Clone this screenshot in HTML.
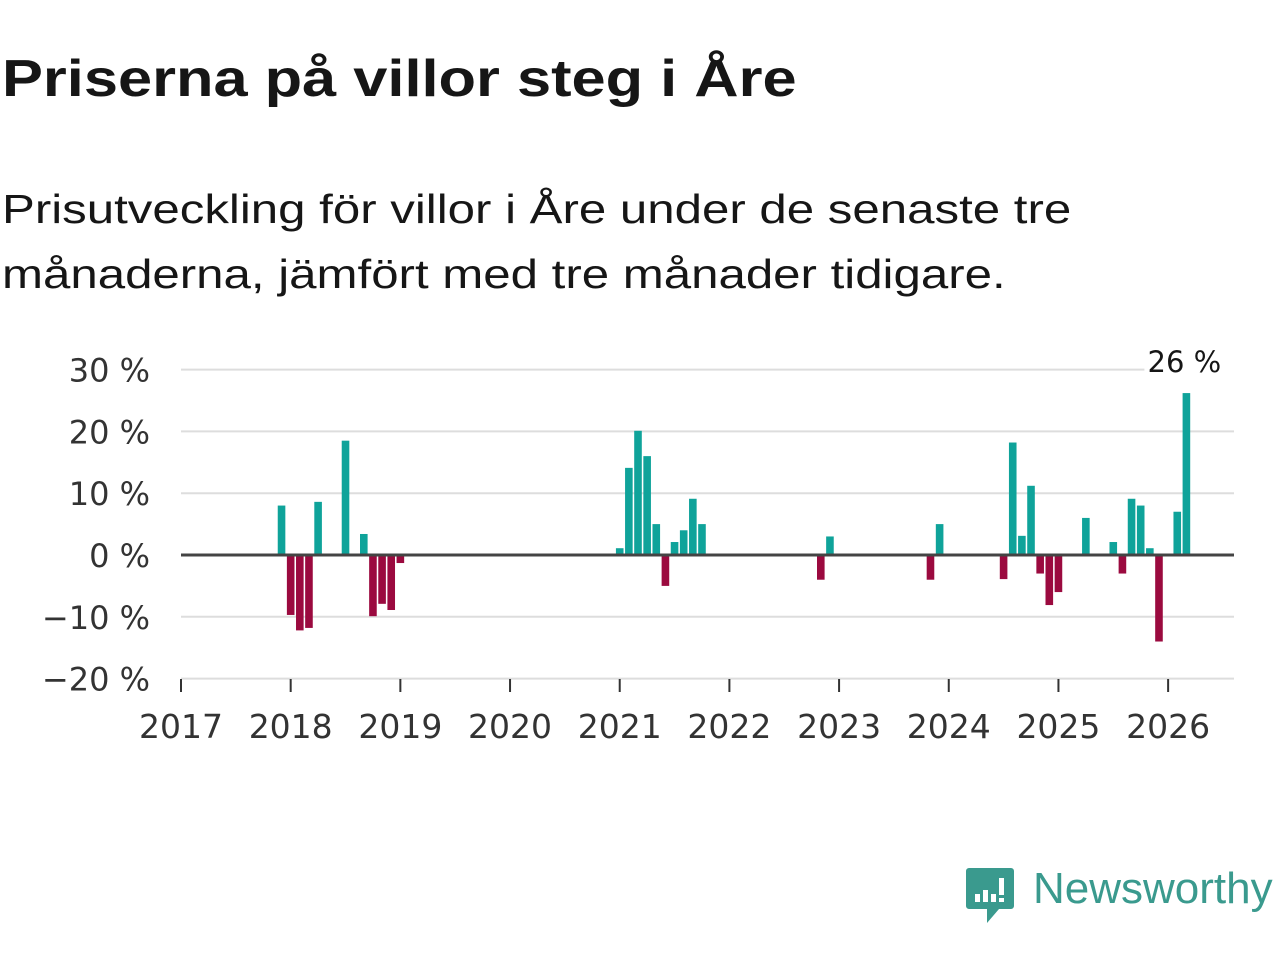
<!DOCTYPE html>
<html><head><meta charset="utf-8"><style>
body{margin:0;width:1280px;height:960px;background:#fff;font-family:"Liberation Sans","DejaVu Sans",sans-serif;overflow:hidden;position:relative}
h1{position:absolute;left:2px;top:49px;margin:0;font-size:52px;font-weight:bold;color:#161616;transform:scaleX(1.18);transform-origin:0 0;white-space:nowrap}
.sub{position:absolute;left:2px;top:177px;margin:0;font-size:41px;line-height:65px;color:#161616;width:1200px;transform:scaleX(1.2);transform-origin:0 0;white-space:nowrap}
</style></head><body>
<h1>Priserna på villor steg i Åre</h1>
<p class="sub">Prisutveckling för villor i Åre under de senaste tre<br>månaderna, jämfört med tre månader tidigare.</p>
<svg id="chart" width="1280" height="800" style="position:absolute;left:0;top:0" font-family="DejaVu Sans, Liberation Sans, sans-serif"></svg>
<div style="position:absolute;left:965px;top:866px;width:315px;height:60px">
<svg width="50" height="60"><path d="M4 2h42a3 3 0 0 1 3 3v35a3 3 0 0 1-3 3H34l-12 14v-14H4a3 3 0 0 1-3-3V5a3 3 0 0 1 3-3z" fill="#3a9a8e"/><rect x="10" y="28" width="5" height="8" fill="#fff"/><rect x="18" y="24" width="5" height="12" fill="#fff"/><rect x="26" y="28" width="5" height="8" fill="#fff"/><rect x="34" y="12" width="5" height="17" fill="#fff"/><rect x="34" y="32" width="5" height="4" fill="#fff"/></svg>
<span style="position:absolute;left:68px;top:-1px;font-size:44px;color:#3a9a8e;line-height:48px">Newsworthy</span>
</div>
<script>
const monthIdx=[11,12,13,14,15,18,20,21,22,23,24,48,49,50,51,52,53,54,55,56,57,70,71,82,83,90,91,92,93,94,95,96,99,102,103,104,105,106,107,109,110];
const values=[8,-9.7,-12.2,-11.8,8.6,18.5,3.4,-9.9,-7.9,-8.9,-1.3,1.1,14.1,20.1,16,5,-5,2.1,4,9.1,5,-4,3,-4,5,-3.9,18.2,3.1,11.2,-3,-8.1,-6,6,2.1,-3,9.1,8,1.1,-14,7,26.2];
const yTicks=[30,20,10,0,-10,-20];
const yTickLabels=["30 %","20 %","10 %","0 %","−10 %","−20 %"];
const years=[2017,2018,2019,2020,2021,2022,2023,2024,2025,2026];
const svg=document.getElementById('chart');const NS='http://www.w3.org/2000/svg';
const x=m=>181+m*9.14;const y=v=>555-v*6.18;
function mk(t,a){const e=document.createElementNS(NS,t);for(const k in a)e.setAttribute(k,a[k]);svg.appendChild(e);return e;}
yTicks.forEach((v,i)=>{const l=mk('line',{x1:181,x2:1234,y1:y(v),y2:y(v),stroke:'#ddd','stroke-width':2});

const t=mk('text',{x:150,y:y(v)+12,'text-anchor':'end','font-size':32,fill:'#333'});t.textContent=yTickLabels[i];
});
years.forEach((yr,i)=>{const xx=x(i*12);const l=mk('line',{x1:xx,x2:xx,y1:679,y2:692,stroke:'#333','stroke-width':2});

const t=mk('text',{x:xx,y:738,'text-anchor':'middle','font-size':33,fill:'#333'});t.textContent=yr;
});
monthIdx.forEach((m,i)=>{const v=values[i];const r=mk('rect',{x:x(m)-3.8,width:7.6,y:v>=0?y(v):y(0),height:Math.abs(y(v)-y(0)),fill:v>=0?'#0fa39a':'#9b0a3f'});
});
const z=mk('line',{x1:181,x2:1234,y1:y(0),y2:y(0),stroke:'#444','stroke-width':3});

const last=monthIdx.length-1;
const bg=mk('rect',{x:x(monthIdx[last])-42,y:343,width:90,height:32,fill:'#fff'});

const lb=mk('text',{x:x(monthIdx[last])-2,y:372,'text-anchor':'middle','font-size':29,fill:'#161616'});lb.textContent=Math.round(values[last])+' %';

</script>
</body></html>
